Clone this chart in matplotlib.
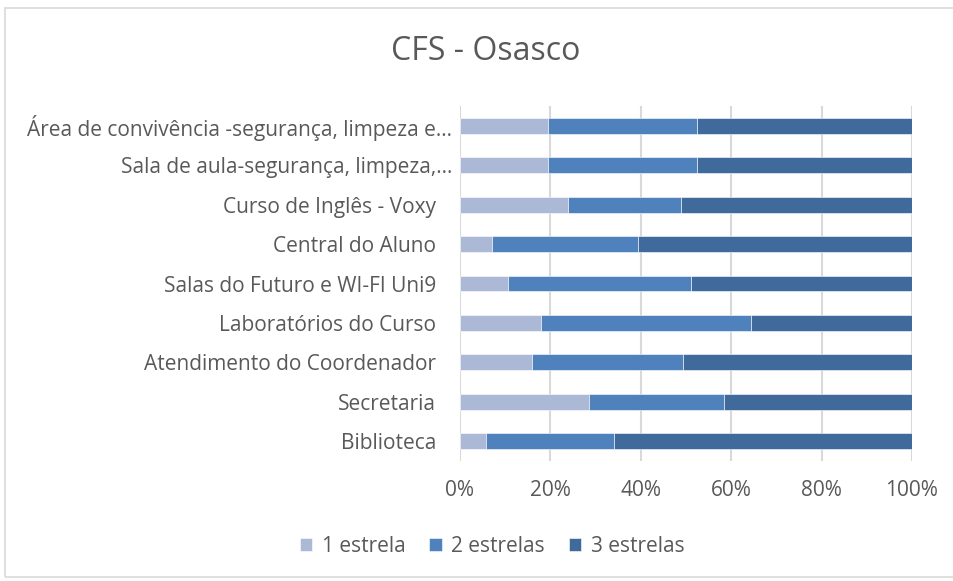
import matplotlib.pyplot as plt
from matplotlib.patches import Rectangle
from matplotlib.ticker import PercentFormatter

categories = [
    "Área de convivência -segurança, limpeza e…",
    "Sala de aula-segurança, limpeza,…",
    "Curso de Inglês - Voxy",
    "Central do Aluno",
    "Salas do Futuro e WI-FI Uni9",
    "Laboratórios do Curso",
    "Atendimento do Coordenador",
    "Secretaria",
    "Biblioteca",
]
um_estrela = [19.4, 19.4, 23.8, 7.0, 10.7, 17.9, 15.9, 28.6, 5.8]
dois_estrelas = [33.0, 33.0, 25.0, 32.4, 40.5, 46.5, 33.4, 29.7, 28.2]
tres_estrelas = [47.6, 47.6, 51.2, 60.6, 48.8, 35.6, 50.7, 41.7, 66.0]
series_names = ["1 estrela", "2 estrelas", "3 estrelas"]
colors = ["#ABB9D7", "#4F81BD", "#3F6A9B"]
text_color = "#595959"

plt.rcParams["font.family"] = ["Open Sans", "DejaVu Sans"]

W, H = 954, 581
fig = plt.figure(figsize=(W / 100, H / 100), dpi=100)
fig.patches.append(Rectangle((5 / W, 1 - 577 / H), 960 / W, 569 / H, transform=fig.transFigure,
                             facecolor="none", edgecolor="#D9D9D9", linewidth=1.2))

ax = fig.add_axes([460 / W, 1 - 460.7 / H, 452 / W, 354.4 / H])
y = list(range(len(categories)))[::-1]
left = [0.0] * len(categories)
for name, vals, c in zip(series_names, [um_estrela, dois_estrelas, tres_estrelas], colors):
    ax.barh(y, vals, left=left, height=0.4, color=c, edgecolor="white", linewidth=0.4,
            label=name, zorder=3)
    left = [a + b for a, b in zip(left, vals)]

ax.set_xlim(0, 100)
ax.set_ylim(-0.5, len(categories) - 0.5)
ax.set_xticks([0, 20, 40, 60, 80, 100])
ax.xaxis.set_major_formatter(PercentFormatter(decimals=0))
ax.set_yticks(y)
ax.set_yticklabels([])
ax.grid(axis="x", color="#D9D9D9", linewidth=1.5, zorder=0)
for s in ax.spines.values():
    s.set_visible(False)
ax.tick_params(length=0, labelsize=15, colors=text_color)
ax.tick_params(axis="x", pad=14)

# Excel pushes the truncated ("…") labels closer to the axis
for yi, cat in zip(y, categories):
    off = -5.8 if cat.endswith("…") else -17.3
    ax.annotate(cat, xy=(0, yi), xycoords=("axes fraction", "data"),
                xytext=(off, 0), textcoords="offset points",
                ha="right", va="center_baseline", fontsize=15, color=text_color)

fig.text(486 / W, 1 - 52 / H, "CFS - Osasco", ha="center", va="center", fontsize=23,
         color=text_color)
fig.legend(loc="center", bbox_to_anchor=(492 / W, 1 - 546 / H), ncol=3, frameon=False,
           fontsize=15, labelcolor=text_color, handlelength=0.6, handleheight=0.6,
           handletextpad=0.45, columnspacing=1.15)

fig.savefig("out.png", dpi=100)
